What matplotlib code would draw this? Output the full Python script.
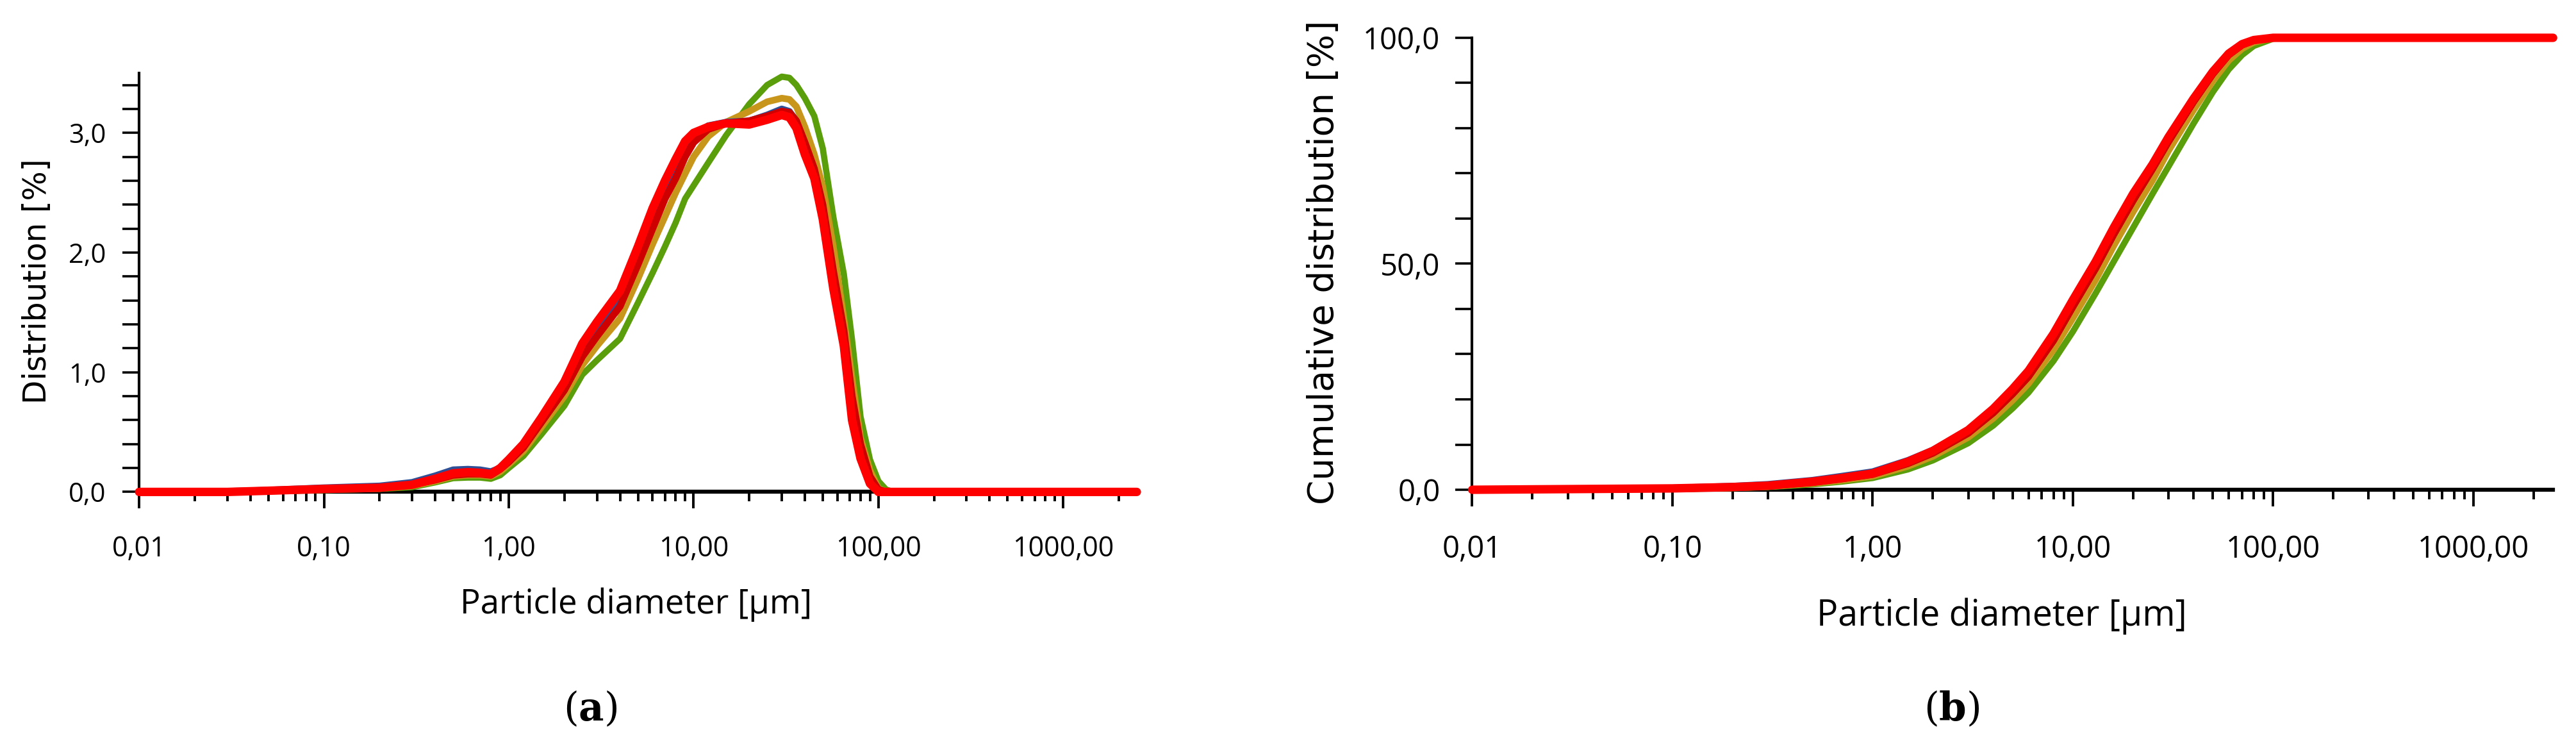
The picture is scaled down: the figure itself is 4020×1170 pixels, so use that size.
import matplotlib
matplotlib.use("Agg")
import matplotlib.pyplot as plt
from matplotlib.ticker import FixedLocator, FuncFormatter, MultipleLocator

plt.rcParams['font.family'] = ['Open Sans', 'DejaVu Sans']

# ---------------- data: distribution (a) ----------------
d_x = [0.01, 0.03, 0.05, 0.1, 0.2, 0.3, 0.4, 0.5, 0.6, 0.7, 0.8, 0.9, 1.0, 1.2, 1.5,
       2.0, 2.5, 3.0, 4.0, 5.0, 6.0, 7.0, 8.0, 9.0, 10, 12, 15, 20, 25, 30, 33, 36,
       40, 45, 50, 57, 65, 72, 80, 90, 100, 110, 120, 2500]

d_green = [0, 0, 0.005, 0.015, 0.025, 0.04, 0.08, 0.115, 0.12, 0.12, 0.11, 0.14, 0.2, 0.3, 0.48,
           0.72, 0.98, 1.1, 1.28, 1.58, 1.83, 2.05, 2.25, 2.45, 2.56, 2.75, 2.98, 3.24, 3.4, 3.47, 3.46, 3.4,
           3.29, 3.14, 2.87, 2.3, 1.82, 1.27, 0.63, 0.27, 0.09, 0.02, 0, 0]
d_gold = [0, 0, 0.008, 0.02, 0.03, 0.05, 0.09, 0.13, 0.14, 0.14, 0.13, 0.17, 0.23, 0.34, 0.54,
          0.8, 1.06, 1.22, 1.45, 1.78, 2.07, 2.3, 2.5, 2.66, 2.8, 2.97, 3.09, 3.18, 3.26, 3.29, 3.28, 3.22,
          3.05, 2.82, 2.55, 2.05, 1.45, 0.95, 0.45, 0.18, 0.03, 0, 0, 0]
d_blue = [0, 0.005, 0.015, 0.035, 0.05, 0.08, 0.135, 0.185, 0.19, 0.185, 0.17, 0.2, 0.26, 0.38, 0.6,
          0.88, 1.18, 1.36, 1.62, 1.98, 2.27, 2.52, 2.7, 2.88, 2.97, 3.06, 3.09, 3.1, 3.15, 3.2, 3.18, 3.1,
          2.9, 2.68, 2.38, 1.8, 1.3, 0.75, 0.38, 0.12, 0.02, 0, 0, 0]
d_darkred = [0, 0, 0.01, 0.025, 0.035, 0.06, 0.1, 0.14, 0.15, 0.15, 0.14, 0.19, 0.25, 0.37, 0.58,
             0.85, 1.13, 1.3, 1.55, 1.9, 2.2, 2.45, 2.62, 2.8, 2.92, 3.03, 3.08, 3.1, 3.14, 3.18, 3.17, 3.1,
             2.92, 2.7, 2.4, 1.85, 1.35, 0.8, 0.4, 0.13, 0.02, 0, 0, 0]
d_red = [0, 0, 0.01, 0.025, 0.035, 0.06, 0.11, 0.155, 0.165, 0.16, 0.15, 0.2, 0.27, 0.4, 0.62,
         0.92, 1.24, 1.42, 1.68, 2.05, 2.37, 2.6, 2.78, 2.93, 3.0, 3.05, 3.08, 3.07, 3.11, 3.15, 3.13, 3.04,
         2.82, 2.62, 2.28, 1.7, 1.22, 0.6, 0.28, 0.07, 0, 0, 0, 0]

# ---------------- data: cumulative (b) ----------------
c_x = [0.01, 0.1, 0.2, 0.3, 0.5, 0.7, 1.0, 1.5, 2, 3, 4, 5, 6, 8, 10, 13, 16, 20, 25, 30,
       40, 50, 60, 70, 80, 100, 120, 2500]
c_green = [0, 0.15, 0.35, 0.6, 1.2, 1.8, 2.6, 4.5, 6.5, 10.3, 14.2, 18, 21.5, 28.5, 35, 43.5, 50.5, 58, 65.5, 71.5,
           81, 88, 93, 96.2, 98.2, 99.8, 100, 100]
c_gold = [0, 0.2, 0.45, 0.7, 1.4, 2.1, 3.0, 5.2, 7.4, 11.6, 15.8, 19.8, 23.5, 31, 38, 46.5, 54, 61.5, 68.5, 75,
          84, 90.5, 95, 97.6, 99, 100, 100, 100]
c_blue = [0, 0.4, 0.8, 1.2, 2.1, 3.0, 4.0, 6.5, 8.8, 13.3, 17.9, 22.2, 26.2, 34.2, 41.6, 50, 57.6, 65, 71.6, 77.6,
          86.2, 92.3, 96.4, 98.5, 99.5, 100, 100, 100]
c_darkred = [0, 0.25, 0.5, 0.8, 1.6, 2.4, 3.4, 5.8, 8.1, 12.5, 17, 21.2, 25, 33, 40.5, 49, 56.5, 64, 71, 77,
             85.8, 92, 96.2, 98.4, 99.4, 100, 100, 100]
c_red = [0, 0.3, 0.6, 0.9, 1.8, 2.6, 3.6, 6.2, 8.6, 13.2, 17.9, 22.3, 26.3, 34.5, 42, 50.5, 58, 65.5, 72, 78,
         86.5, 92.5, 96.5, 98.6, 99.5, 100, 100, 100]

x_ticks = [0.01, 0.1, 1, 10, 100, 1000]
x_minor = [m * 10.0 ** e for e in range(-2, 4) for m in range(2, 10)]

colors = {'green': '#5a9e0c', 'gold': '#c9961c', 'blue': '#2f4f96', 'darkred': '#cf0000', 'red': '#ff0000'}
widths = {'green': 7, 'gold': 7.5, 'blue': 7.5, 'darkred': 8, 'red': 9.5}

fig = plt.figure(figsize=(40.2, 11.7), dpi=100)

fmt_x = FuncFormatter(lambda v, p: f"{v:.2f}".replace('.', ','))
fmt_y = FuncFormatter(lambda v, p: f"{v:.1f}".replace('.', ','))


def style(ax, ylim, ymaj, ymin, fsx, fsy, xpad, ypad):
    ax.set_xscale('log')
    ax.set_xlim(0.01, 2500)
    ax.set_ylim(*ylim)
    for s in ('top', 'right'):
        ax.spines[s].set_visible(False)
    ax.spines['left'].set_linewidth(3)
    ax.spines['bottom'].set_linewidth(4.5)
    ax.xaxis.set_major_locator(FixedLocator(x_ticks))
    ax.xaxis.set_minor_locator(FixedLocator(x_minor))
    ax.xaxis.set_major_formatter(fmt_x)
    ax.xaxis.set_minor_formatter(FuncFormatter(lambda v, p: ''))
    ax.yaxis.set_major_locator(MultipleLocator(ymaj))
    ax.yaxis.set_minor_locator(MultipleLocator(ymin))
    ax.yaxis.set_major_formatter(fmt_y)
    ax.tick_params(axis='x', which='major', direction='out', length=19, width=2.8,
                   labelsize=fsx, pad=xpad)
    ax.tick_params(axis='x', which='minor', direction='out', length=11, width=2.8)
    ax.tick_params(axis='y', which='both', direction='out', length=19, width=2.6,
                   labelsize=fsy, pad=ypad)
    ax.patch.set_alpha(0)


def draw(ax, x, series):
    for name, y in series:
        ax.plot(x, y, color=colors[name], lw=widths[name], solid_joinstyle='round',
                solid_capstyle='round', clip_on=False, zorder=3)


ax1 = fig.add_axes([0.054, 0.3441, 0.3873, 0.5585])
style(ax1, (0, 3.5), 1.0, 0.2, 31, 30, 29.5, 18)
draw(ax1, d_x, [('green', d_green), ('gold', d_gold), ('blue', d_blue),
                ('darkred', d_darkred), ('red', d_red)])

ax2 = fig.add_axes([0.5715, 0.3470, 0.4196, 0.6026])
style(ax2, (0, 100), 50, 10, 34, 34, 31, 17)
draw(ax2, c_x, [('green', c_green), ('gold', c_gold), ('blue', c_blue),
                ('darkred', c_darkred), ('red', c_red)])

fig.text(0.01443, 0.6248, 'Distribution [%]', rotation=90, ha='center', va='center',
         fontsize=35, family='DejaVu Sans')
fig.text(0.5139, 0.6504, 'Cumulative distribution [%]', rotation=90, ha='center', va='center',
         fontsize=39.5, family='DejaVu Sans')
fig.text(0.247, 0.182, 'Particle diameter [\u03bcm]', ha='center', va='baseline', fontsize=38)
fig.text(0.7052, 0.1658, 'Particle diameter [\u03bcm]', ha='left', va='baseline', fontsize=40)

for xc, lab in [(0.2291, 'a'), (0.7577, 'b')]:
    fig.text(xc, 0.0538, '(' + r'$\mathbf{' + lab + '}$' + ')', ha='center', va='center',
             fontsize=44, family='DejaVu Serif', math_fontfamily='dejavuserif')

fig.savefig('out.png', dpi=100, facecolor='white')
